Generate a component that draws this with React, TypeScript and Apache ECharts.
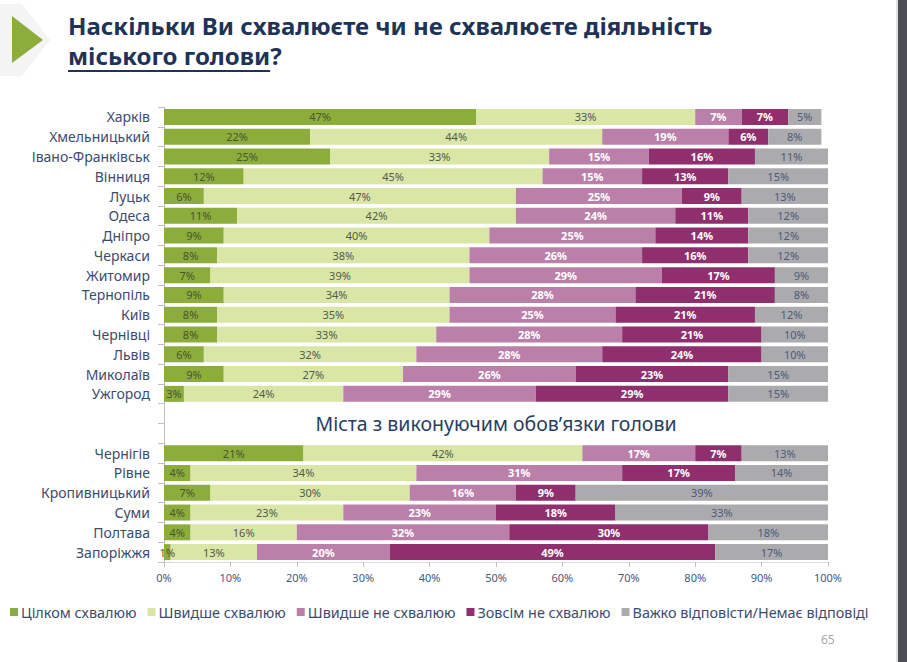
import React, { useEffect, useRef } from "react";
import * as echarts from "echarts";

const categories = [
  "Харків", "Хмельницький", "Івано-Франківськ", "Вінниця", "Луцьк", "Одеса", "Дніпро",
  "Черкаси", "Житомир", "Тернопіль", "Київ", "Чернівці", "Львів", "Миколаїв", "Ужгород",
  "", " ",
  "Чернігів", "Рівне", "Кропивницький", "Суми", "Полтава", "Запоріжжя",
];

const seriesNames = [
  "Цілком схвалюю",
  "Швидше схвалюю",
  "Швидше не схвалюю",
  "Зовсім не схвалюю",
  "Важко відповісти/Немає відповіді",
];

const fullyApprove = [47, 22, 25, 12, 6, 11, 9, 8, 7, 9, 8, 8, 6, 9, 3, null, null, 21, 4, 7, 4, 4, 1];
const ratherApprove = [33, 44, 33, 45, 47, 42, 40, 38, 39, 34, 35, 33, 32, 27, 24, null, null, 42, 34, 30, 23, 16, 13];
const ratherNot = [7, 19, 15, 15, 25, 24, 25, 26, 29, 28, 25, 28, 28, 26, 29, null, null, 17, 31, 16, 23, 32, 20];
const notAtAll = [7, 6, 16, 13, 9, 11, 14, 16, 17, 21, 21, 21, 24, 23, 29, null, null, 7, 17, 9, 18, 30, 49];
const hardToSay = [5, 8, 11, 15, 13, 12, 12, 12, 9, 8, 12, 10, 10, 15, 15, null, null, 13, 14, 39, 33, 18, 17];

const xTicks = [0, 10, 20, 30, 40, 50, 60, 70, 80, 90, 100];

const titleLine1 = "Наскільки Ви схвалюєте чи не схвалюєте діяльність";
const titleLine2 = "міського голови";
const subtitle = "Міста з виконуючим обов’язки голови";
const pageNumber = "65";

const colors = ["#8cad3c", "#d9e6a5", "#bb80aa", "#8f2f6d", "#ababae"];
const labelColors = ["#48552f", "#525a50", "#ffffff", "#ffffff", "#4e5a78"];

const FONT = "'Noto Sans', 'DejaVu Sans', sans-serif";
const TITLE_FONT = `bold 24px ${FONT}`;

function measure(text: string, font: string): number {
  const c = document.createElement("canvas").getContext("2d");
  if (!c) return text.length * 12;
  c.font = font;
  return c.measureText(text).width;
}

export default function App() {
  const ref = useRef<HTMLDivElement>(null);

  useEffect(() => {
    if (!ref.current) return;
    const chart = echarts.init(ref.current, null, { renderer: "svg" });
    const dataSets = [fullyApprove, ratherApprove, ratherNot, notAtAll, hardToSay];

    const series = dataSets.map((d, i) => ({
      name: seriesNames[i],
      type: "bar",
      stack: "total",
      barWidth: 16,
      data: d.map((v) => (v === null ? "-" : v)),
      itemStyle: { color: colors[i] },
      label: {
        show: true,
        position: "inside",
        color: labelColors[i],
        fontSize: 11,
        fontFamily: FONT,
        fontWeight: i === 2 || i === 3 ? "bold" : "normal",
        formatter: (p: any) => (p.value === "-" || p.value == null ? "" : `${p.value}%`),
      },
    }));

    const underlineW = measure(titleLine2, TITLE_FONT);

    chart.setOption({
      animation: false,
      backgroundColor: "#ffffff",
      textStyle: { fontFamily: FONT },
      grid: { left: 164, right: 79, top: 107, bottom: 100, containLabel: false },
      xAxis: {
        type: "value",
        min: 0,
        max: 100,
        interval: 10,
        axisLine: { show: true, lineStyle: { color: "#dadada" } },
        axisTick: { show: true, length: 5, lineStyle: { color: "#bfbfbf" } },
        splitLine: { show: false },
        axisLabel: {
          color: "#4a5878",
          fontSize: 11,
          fontFamily: FONT,
          margin: 10,
          formatter: (v: number) => (xTicks.includes(v) ? `${v}%` : ""),
        },
      },
      yAxis: {
        type: "category",
        inverse: true,
        data: categories,
        axisLine: { show: true, lineStyle: { color: "#bfbfbf" } },
        axisTick: { show: true, length: 6, lineStyle: { color: "#bfbfbf" } },
        axisLabel: { color: "#3c4c6e", fontSize: 14, fontFamily: FONT, margin: 14 },
      },
      legend: {
        left: 5,
        top: 600,
        itemWidth: 8,
        itemHeight: 8,
        itemGap: 11,
        icon: "rect",
        textStyle: { color: "#3c4c6e", fontSize: 14.4, fontFamily: FONT, padding: [0, 0, 0, -2] },
        data: seriesNames,
      },
      series,
      graphic: [
        {
          type: "polygon",
          id: "bgchev",
          shape: { points: [[0, 4], [22, 4], [50, 40], [22, 76], [0, 76]] },
          style: { fill: "#f4f4f4" },
          z: 0,
        },
        {
          type: "polygon",
          id: "tri",
          shape: { points: [[12, 16], [43, 40], [12, 63]] },
          style: { fill: "#8cad3c" },
          z: 1,
        },
        {
          type: "text",
          id: "t1",
          left: 68,
          top: 13,
          style: { text: titleLine1, fill: "#1e3356", font: TITLE_FONT },
        },
        {
          type: "text",
          id: "t2",
          left: 68,
          top: 43,
          style: { text: titleLine2 + "?", fill: "#1e3356", font: TITLE_FONT },
        },
        {
          type: "rect",
          id: "ul",
          shape: { x: 68, y: 70, width: underlineW, height: 2 },
          style: { fill: "#1e3356" },
        },
        {
          type: "text",
          id: "page",
          left: 821,
          top: 633,
          style: { text: pageNumber, fill: "#a8a8a8", font: `12px ${FONT}` },
        },
        {
          type: "rect",
          id: "edge",
          shape: { x: 898, y: 0, width: 9, height: 662 },
          style: { fill: "#4b4e53" },
        },
        {
          type: "rect",
          id: "edge2",
          shape: { x: 896, y: 0, width: 2, height: 662 },
          style: { fill: "#e2e2e2" },
        },
      ],
    });

    const p1 = chart.convertToPixel({ gridIndex: 0 } as any, [50, categories[15]]) as number[];
    const p2 = chart.convertToPixel({ gridIndex: 0 } as any, [50, categories[16]]) as number[];
    if (p1 && p2) {
      chart.setOption({
        graphic: [
          {
            type: "text",
            id: "sub",
            x: p1[0],
            y: (p1[1] + p2[1]) / 2,
            style: {
              text: subtitle,
              fill: "#2a3d5e",
              font: `19.5px ${FONT}`,
              align: "center",
              verticalAlign: "middle",
            },
          },
        ],
      });
    }

    return () => chart.dispose();
  }, []);

  return (
    <div
      ref={ref}
      style={{ position: "fixed", left: 0, top: 0, width: 907, height: 662 }}
    />
  );
}
